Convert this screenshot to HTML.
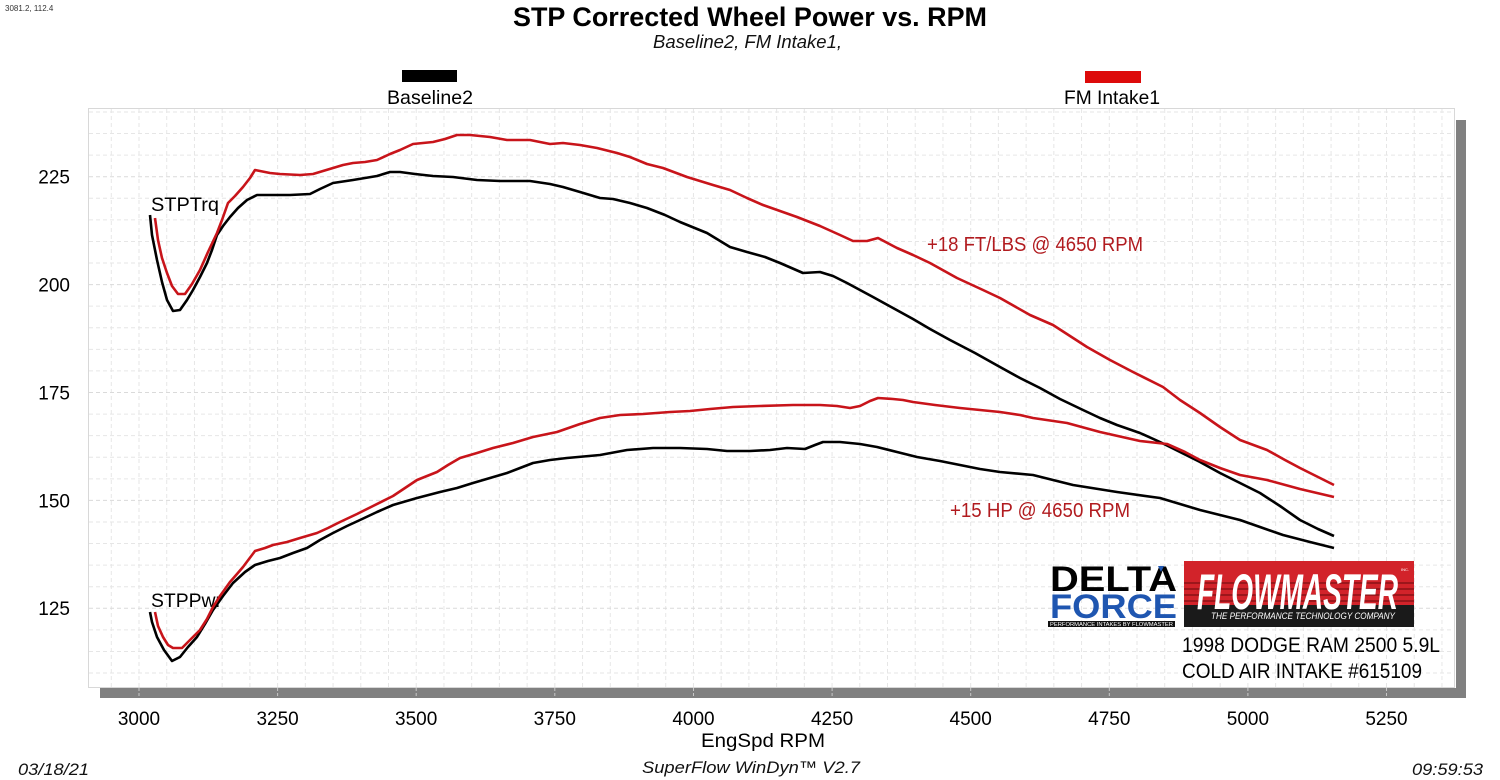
<!DOCTYPE html>
<html>
<head>
<meta charset="utf-8">
<style>
  html,body{margin:0;padding:0;background:#fff;}
  svg{display:block;}
  text{font-family:"Liberation Sans", Arial, sans-serif;}
</style>
</head>
<body>
<svg width="1500" height="780" viewBox="0 0 1500 780" xmlns="http://www.w3.org/2000/svg">
  <rect x="0" y="0" width="1500" height="780" fill="#ffffff"/>

  <!-- top-left coordinate readout -->
  <text x="5" y="11" font-size="8" fill="#333">3081.2, 112.4</text>

  <!-- title -->
  <text x="513" y="26" font-size="27" font-weight="bold" fill="#000" textLength="474" lengthAdjust="spacingAndGlyphs">STP Corrected Wheel Power vs. RPM</text>
  <text x="653" y="48" font-size="18" font-style="italic" fill="#111" textLength="189" lengthAdjust="spacingAndGlyphs">Baseline2, FM Intake1,</text>

  <!-- legend -->
  <rect x="402" y="70" width="55" height="12" fill="#000"/>
  <text x="387" y="104" font-size="19.5" fill="#000" textLength="86" lengthAdjust="spacingAndGlyphs">Baseline2</text>
  <rect x="1085" y="71" width="56" height="12" fill="#dd0a0a"/>
  <text x="1064" y="104" font-size="19.5" fill="#000" textLength="96" lengthAdjust="spacingAndGlyphs">FM Intake1</text>

  <!-- shadow -->
  <rect x="100" y="688" width="1366" height="10" fill="#808080"/>
  <rect x="1456" y="120" width="10" height="578" fill="#808080"/>
  <!-- tick marks inside shadow band -->
  <g stroke="#c8c8c8" stroke-width="1" stroke-dasharray="3,2">
    <path d="M139 688V698M277.6 688V698M416.2 688V698M554.8 688V698M693.5 688V698M832.1 688V698M970.7 688V698M1109.3 688V698M1247.9 688V698M1386.5 688V698"/>
  </g>

  <!-- plot area -->
  <rect x="88.5" y="108.5" width="1366" height="579" fill="#fff" stroke="#d8d8d8" stroke-width="1"/>

  <!-- grid -->
  <g stroke="#e6e6e6" stroke-width="1" stroke-dasharray="4,3" fill="none">
    <path d="M111.28 109V687M139 109V687M166.72 109V687M194.45 109V687M222.17 109V687M249.89 109V687M277.61 109V687M305.34 109V687M333.06 109V687M360.78 109V687M388.5 109V687M416.23 109V687M443.95 109V687M471.67 109V687M499.39 109V687M527.12 109V687M554.84 109V687M582.56 109V687M610.28 109V687M638.01 109V687M665.73 109V687M693.45 109V687M721.17 109V687M748.9 109V687M776.62 109V687M804.34 109V687M832.06 109V687M859.79 109V687M887.51 109V687M915.23 109V687M942.95 109V687M970.68 109V687M998.4 109V687M1026.12 109V687M1053.84 109V687M1081.57 109V687M1109.29 109V687M1137.01 109V687M1164.73 109V687M1192.46 109V687M1220.18 109V687M1247.9 109V687M1275.62 109V687M1303.35 109V687M1331.07 109V687M1358.79 109V687M1386.51 109V687M1414.24 109V687M1441.96 109V687"/>
    <path d="M89 111.96H1454M89 133.54H1454M89 155.12H1454M89 198.28H1454M89 219.86H1454M89 241.44H1454M89 263.02H1454M89 306.18H1454M89 327.76H1454M89 349.34H1454M89 370.92H1454M89 414.08H1454M89 435.66H1454M89 457.24H1454M89 478.82H1454M89 521.98H1454M89 543.56H1454M89 565.14H1454M89 586.72H1454M89 629.88H1454M89 651.46H1454M89 673.04H1454"/>
  </g>
  <g stroke="#dadada" stroke-width="1" stroke-dasharray="4,3" fill="none">
    <path d="M89 176.7H1454M89 284.6H1454M89 392.5H1454M89 500.4H1454M89 608.3H1454"/>
  </g>

  <!-- y tick labels -->
  <g font-size="19" fill="#000" text-anchor="end">
    <text x="70" y="183.5">225</text>
    <text x="70" y="291.5">200</text>
    <text x="70" y="399.5">175</text>
    <text x="70" y="507.5">150</text>
    <text x="70" y="615">125</text>
  </g>

  <!-- x tick labels -->
  <g font-size="19" fill="#000" text-anchor="middle">
    <text x="139" y="725">3000</text>
    <text x="277.6" y="725">3250</text>
    <text x="416.2" y="725">3500</text>
    <text x="554.8" y="725">3750</text>
    <text x="693.5" y="725">4000</text>
    <text x="832.1" y="725">4250</text>
    <text x="970.7" y="725">4500</text>
    <text x="1109.3" y="725">4750</text>
    <text x="1247.9" y="725">5000</text>
    <text x="1386.5" y="725">5250</text>
  </g>
  <text x="701" y="747" font-size="19" fill="#000" textLength="124" lengthAdjust="spacingAndGlyphs">EngSpd  RPM</text>

  <!-- footer -->
  <text x="18" y="775" font-size="17" font-style="italic" fill="#111" textLength="71" lengthAdjust="spacingAndGlyphs">03/18/21</text>
  <text x="642" y="773" font-size="17" font-style="italic" fill="#111" textLength="218" lengthAdjust="spacingAndGlyphs">SuperFlow WinDyn™ V2.7</text>
  <text x="1412" y="775" font-size="17" font-style="italic" fill="#111" textLength="71" lengthAdjust="spacingAndGlyphs">09:59:53</text>

  <!-- series labels -->
  <text x="151" y="211" font-size="19" fill="#000" textLength="68" lengthAdjust="spacingAndGlyphs">STPTrq</text>
  <text x="151" y="607" font-size="19" fill="#000" textLength="71" lengthAdjust="spacingAndGlyphs">STPPwr</text>

  <!-- curves -->
  <g fill="none" stroke-width="2.6" stroke-linejoin="round" stroke-linecap="butt">
    <!-- black torque -->
    <polyline stroke="#000" points="150,215 152,235 157,260 162,282 167,300 173,311 180,310 187,300 193,290 200,277 207,263 212,250 217,235 223,226 230,217 238,208 247,200 257,195 273,195 290,195 310,194 320,189 333,183 353,180 377,176 390,172 400,172 415,174 433,176 453,177 477,180 500,181 530,181 550,184 563,187 580,192 600,198 613,199 630,203 647,208 665,215 680,222 707,233 730,247 747,252 765,257 780,263 803,273 820,272 833,276 847,283 873,297 893,308 913,319 930,329 950,340 975,353 1000,367 1020,378 1040,388 1060,399 1083,410 1100,418 1117,425 1140,433 1160,442 1180,452 1200,462 1220,473 1240,483 1260,493 1280,506 1300,520 1318,529 1334,536"/>
    <!-- black power -->
    <polyline stroke="#000" points="150,612 152,622 157,637 164,650 172,661 180,657 188,647 197,637 205,624 213,610 223,596 233,583 245,572 255,565 268,561 280,558 293,553 307,548 320,540 333,533 347,526 360,520 377,512 393,505 417,498 440,492 457,488 473,483 490,478 507,473 520,468 533,463 550,460 567,458 600,455 627,450 653,448 680,448 707,449 727,451 750,451 770,450 787,448 805,449 815,445 823,442 840,442 860,444 877,447 897,452 917,457 940,461 960,465 980,469 1000,472 1033,475 1073,485 1117,492 1160,498 1180,504 1200,510 1220,515 1240,520 1260,527 1283,535 1310,542 1334,548"/>
    <!-- red torque -->
    <polyline stroke="#c8141a" points="155,218 158,240 162,258 167,273 172,286 178,294 185,294 192,284 200,270 208,252 217,233 222,220 228,203 235,196 243,187 250,178 255,170 260,171 270,173 280,174 300,175 313,174 323,171 333,168 343,165 353,163 365,162 377,160 390,154 400,150 413,144 423,143 433,142 445,139 457,135 470,135 490,137 507,140 530,140 550,144 563,143 580,145 597,148 617,153 630,157 647,164 663,168 687,177 713,185 730,190 747,198 763,205 780,211 797,217 820,226 840,235 853,241 867,241 878,238 897,248 913,255 930,263 957,278 983,290 1000,298 1030,315 1053,325 1070,336 1087,347 1110,360 1133,372 1163,387 1180,400 1200,413 1220,427 1240,440 1267,450 1285,460 1300,468 1318,477 1334,485"/>
    <!-- red power -->
    <polyline stroke="#c8141a" points="155,612 158,626 163,637 168,645 173,648 182,648 190,640 200,630 207,619 213,607 220,596 230,582 237,574 243,567 255,551 265,548 273,545 287,542 300,538 317,533 328,528 340,522 357,514 373,506 393,496 405,488 417,480 437,472 448,465 460,458 477,453 493,448 513,443 533,437 557,432 580,424 600,418 620,415 643,414 670,412 690,411 710,409 733,407 760,406 793,405 820,405 837,406 850,408 860,406 870,401 878,398 893,399 903,400 913,402 935,405 960,408 980,410 1000,412 1020,415 1033,418 1067,423 1100,432 1140,441 1167,444 1185,452 1200,460 1220,468 1240,475 1267,480 1300,489 1334,497"/>
  </g>

  <!-- annotations -->
  <text x="927" y="251" font-size="20" fill="#b11b1f" textLength="216" lengthAdjust="spacingAndGlyphs">+18 FT/LBS @ 4650 RPM</text>
  <text x="950" y="517" font-size="20" fill="#b11b1f" textLength="180" lengthAdjust="spacingAndGlyphs">+15 HP @ 4650 RPM</text>

  <!-- Delta Force logo -->
  <text x="1050" y="591" font-size="35" font-weight="bold" fill="#000" textLength="127" lengthAdjust="spacingAndGlyphs">DELTA</text>
  <polygon points="1158,566 1164,566 1161,572" fill="#1f56b0"/>
  <text x="1050" y="618" font-size="34" font-weight="bold" fill="#1f56b0" textLength="127" lengthAdjust="spacingAndGlyphs">FORCE</text>
  <rect x="1048" y="621" width="127" height="6" fill="#111"/>
  <text x="1050" y="626" font-size="5" fill="#fff" textLength="123" lengthAdjust="spacingAndGlyphs">PERFORMANCE INTAKES BY FLOWMASTER</text>

  <!-- Flowmaster logo -->
  <rect x="1184" y="561" width="230" height="66" fill="#1a1a1a"/>
  <rect x="1184" y="561" width="230" height="44" fill="#d2232a"/>
  <g stroke="#8a1216" stroke-width="1.6">
    <line x1="1184" y1="583" x2="1414" y2="583"/>
    <line x1="1184" y1="589" x2="1414" y2="589"/>
    <line x1="1184" y1="595" x2="1414" y2="595"/>
    <line x1="1184" y1="601" x2="1414" y2="601"/>
  </g>
  <text x="1197" y="609" font-size="50" font-weight="bold" font-style="italic" fill="#fff" textLength="201" lengthAdjust="spacingAndGlyphs">FLOWMASTER</text>
  <text x="1401" y="571" font-size="4" fill="#fff">INC.</text>
  <text x="1211" y="619" font-size="9" font-style="italic" fill="#fff" textLength="184" lengthAdjust="spacingAndGlyphs">THE PERFORMANCE TECHNOLOGY COMPANY</text>

  <!-- vehicle text -->
  <text x="1182" y="652" font-size="21" fill="#000" textLength="258" lengthAdjust="spacingAndGlyphs">1998 DODGE RAM 2500 5.9L</text>
  <text x="1182" y="678" font-size="21" fill="#000" textLength="240" lengthAdjust="spacingAndGlyphs">COLD AIR INTAKE #615109</text>
</svg>
</body>
</html>
